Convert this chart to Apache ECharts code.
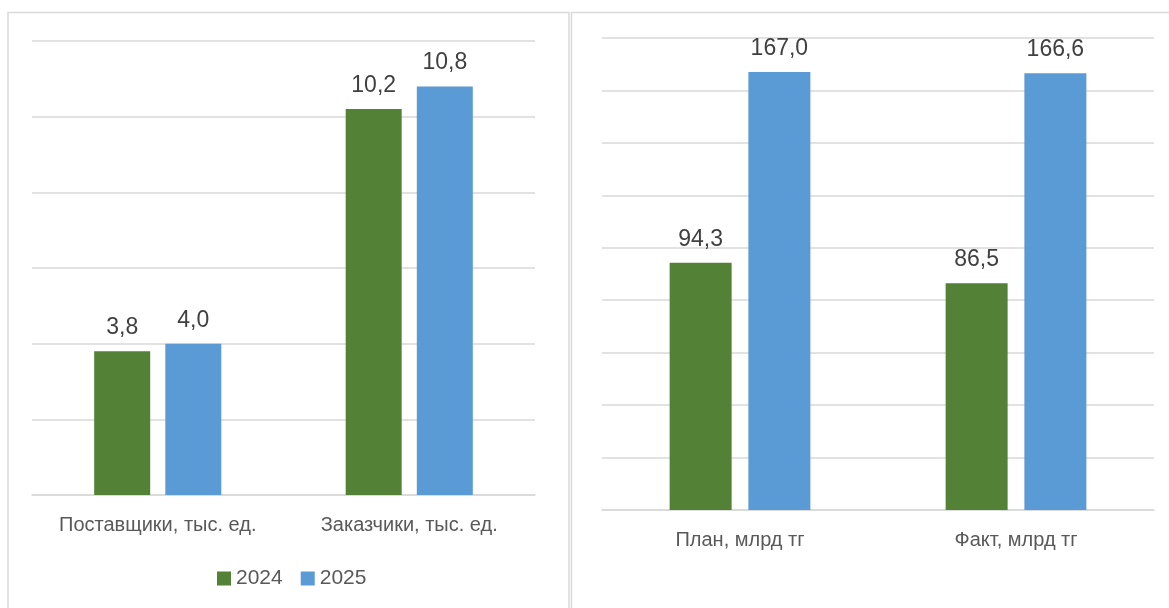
<!DOCTYPE html>
<html><head><meta charset="utf-8">
<script src="https://cdn.jsdelivr.net/npm/echarts@6/dist/echarts.min.js"></script>
<style>html,body{margin:0;padding:0;background:#fff}#c{width:1169px;height:608px}</style>
</head><body><div id="c"></div>
<script>
const leftCategories = ['Поставщики, тыс. ед.', 'Заказчики, тыс. ед.'];
const left2024 = [3.8, 10.2];
const left2025 = [4.0, 10.8];
const rightCategories = ['План, млрд тг', 'Факт, млрд тг'];
const right2024 = [94.3, 86.5];
const right2025 = [167.0, 166.6];
const seriesNames = ['2024', '2025'];

const GREEN = '#538135', BLUE = '#5B9BD5';
const FONT = 'Liberation Sans, Arial, sans-serif';
const fmt = p => p.value.toFixed(1).replace('.', ',');
const lbl = {show: true, position: 'top', distance: 12, fontSize: 23, color: '#404040', fontFamily: FONT, formatter: fmt};
const catLabel = {interval: 0, margin: 20, fontSize: 20, color: '#595959', fontFamily: FONT};

const chart = echarts.init(document.getElementById('c'), null, {renderer: 'canvas'});
chart.setOption({
  animation: false,
  graphic: [
    {type: 'rect', shape: {x: 8, y: 12.5, width: 561, height: 620}, style: {fill: 'none', stroke: '#d9d9d9', lineWidth: 1.5}, z: -1},
    {type: 'rect', shape: {x: 571.5, y: 12.5, width: 620, height: 620}, style: {fill: 'none', stroke: '#d9d9d9', lineWidth: 1.5}, z: -1}
  ],
  legend: {
    data: seriesNames, left: 212, top: 563, itemWidth: 14, itemHeight: 14, itemGap: 18,
    icon: 'rect', textStyle: {fontSize: 21, color: '#595959', fontFamily: FONT}
  },
  grid: [
    {left: 32, top: 41, width: 503, height: 454},
    {left: 602, top: 38, width: 552, height: 472}
  ],
  xAxis: [
    {type: 'category', gridIndex: 0, data: leftCategories, axisTick: {show: false},
     axisLine: {lineStyle: {color: '#d9d9d9', width: 1.5}}, axisLabel: catLabel},
    {type: 'category', gridIndex: 1, data: rightCategories, axisTick: {show: false},
     axisLine: {lineStyle: {color: '#d9d9d9', width: 1.5}}, axisLabel: catLabel}
  ],
  yAxis: [
    {type: 'value', gridIndex: 0, min: 0, max: 12, interval: 2, axisLabel: {show: false},
     axisLine: {show: false}, axisTick: {show: false}, splitLine: {lineStyle: {color: '#d9d9d9', width: 1.5}}},
    {type: 'value', gridIndex: 1, min: 0, max: 180, interval: 20, axisLabel: {show: false},
     axisLine: {show: false}, axisTick: {show: false}, splitLine: {lineStyle: {color: '#d9d9d9', width: 1.5}}}
  ],
  series: [
    {name: '2024', type: 'bar', xAxisIndex: 0, yAxisIndex: 0, data: left2024, barWidth: 56, barGap: '27%', itemStyle: {color: GREEN}, label: lbl},
    {name: '2025', type: 'bar', xAxisIndex: 0, yAxisIndex: 0, data: left2025, barWidth: 56, barGap: '27%', itemStyle: {color: BLUE}, label: lbl},
    {name: '2024', type: 'bar', xAxisIndex: 1, yAxisIndex: 1, data: right2024, barWidth: 62, barGap: '27%', itemStyle: {color: GREEN}, label: lbl},
    {name: '2025', type: 'bar', xAxisIndex: 1, yAxisIndex: 1, data: right2025, barWidth: 62, barGap: '27%', itemStyle: {color: BLUE}, label: lbl}
  ]
});
</script></body></html>
